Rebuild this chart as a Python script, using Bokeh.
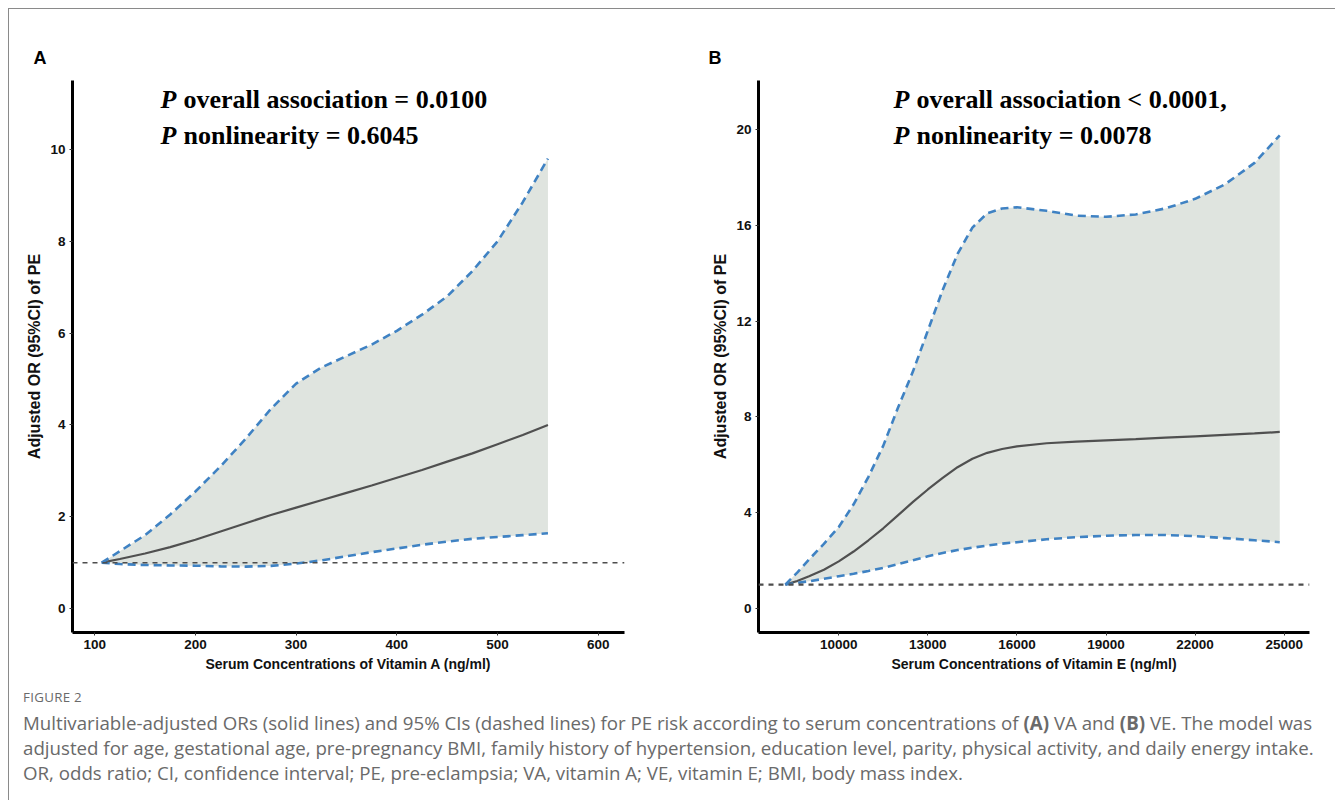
from bokeh.plotting import figure
from bokeh.models import Range1d, FixedTicker, Label, Span, Div
from bokeh.layouts import row, column
from bokeh.embed import file_html
from bokeh.resources import INLINE

# ---------------- Panel A: serum vitamin A (ng/ml) ----------------
va_x = [107, 125, 150, 175, 200, 225, 250, 275, 300, 325, 350, 375, 400,
        425, 450, 475, 500, 525, 550]
va_or = [1.0, 1.08, 1.2, 1.34, 1.5, 1.68, 1.86, 2.04, 2.2, 2.36, 2.52, 2.68,
         2.85, 3.02, 3.2, 3.38, 3.58, 3.78, 4.0]
va_lo = [1.0, 0.97, 0.95, 0.94, 0.935, 0.92, 0.915, 0.93, 0.98, 1.05, 1.14,
         1.23, 1.31, 1.39, 1.46, 1.52, 1.56, 1.6, 1.64]
va_hi = [1.0, 1.25, 1.6, 2.05, 2.55, 3.1, 3.7, 4.35, 4.9, 5.25, 5.5, 5.75,
         6.05, 6.4, 6.8, 7.35, 8.0, 8.85, 9.8]
va_xticks = [100, 200, 300, 400, 500, 600]
va_yticks = [0, 2, 4, 6, 8, 10]
va_xrange = (78, 626)
va_yrange = (-0.52, 11.5)

# ---------------- Panel B: serum vitamin E (ng/ml) ----------------
ve_x = [8200, 8600, 9000, 9500, 10000, 10500, 11000, 11500, 12000, 12500,
        13000, 13500, 14000, 14500, 15000, 15500, 16000, 17000, 18000, 19000,
        20000, 21000, 22000, 23000, 24000, 24850]
ve_or = [1.0, 1.15, 1.35, 1.62, 1.97, 2.38, 2.85, 3.35, 3.9, 4.45, 4.97, 5.45,
         5.9, 6.25, 6.5, 6.66, 6.77, 6.9, 6.97, 7.02, 7.07, 7.13, 7.19, 7.25,
         7.31, 7.37]
ve_lo = [1.0, 1.07, 1.14, 1.24, 1.35, 1.45, 1.57, 1.7, 1.85, 2.02, 2.18, 2.32,
         2.44, 2.54, 2.63, 2.71, 2.77, 2.89, 2.98, 3.04, 3.07, 3.07, 3.02,
         2.94, 2.85, 2.77]
ve_hi = [1.0, 1.5, 2.05, 2.7, 3.4, 4.35, 5.5, 6.8, 8.4, 9.9, 11.6, 13.3, 14.8,
         15.9, 16.5, 16.7, 16.75, 16.6, 16.4, 16.35, 16.45, 16.7, 17.1, 17.7,
         18.6, 19.75]
ve_xticks = [10000, 13000, 16000, 19000, 22000, 25000]
ve_yticks = [0, 4, 8, 12, 16, 20]
ve_xrange = (7297, 25852)
ve_yrange = (-1.0, 22.04)

REF_OR = 1.0
Y_TITLE = "Adjusted OR (95%CI) of PE"

RIBBON = "#DFE4DF"
CI_BLUE = "#3F82C3"
FIT_GREY = "#505050"


def make_panel(x, fit, lo, hi, xr, yr, xticks, yticks, xtitle, letter,
               line1, line2, left, right, width, ref_w, letter_dx, text_dx):
    p = figure(width=width, height=671, x_range=Range1d(*xr),
               y_range=Range1d(*yr), output_backend="svg",
               toolbar_location=None, min_border_left=left,
               min_border_right=right, min_border_top=71,
               min_border_bottom=48, title=letter)
    p.outline_line_color = None
    p.grid.visible = False
    p.background_fill_color = "white"
    p.border_fill_color = "white"
    p.title.align = "left"
    p.title.offset = letter_dx
    p.title.text_font = "Liberation Sans"
    p.title.text_font_style = "bold"
    p.title.text_font_size = "18px"
    p.title.text_color = "black"
    p.title.standoff = 26

    p.varea(x=x, y1=lo, y2=hi, fill_color=RIBBON)
    p.add_layout(Span(location=REF_OR, dimension="width",
                      line_color="#4d4d4d", line_width=ref_w,
                      line_dash="5 5"))
    p.line(x, fit, line_color=FIT_GREY, line_width=2.2)
    p.line(x, hi, line_color=CI_BLUE, line_width=2.6, line_dash="8 5")
    p.line(x, lo, line_color=CI_BLUE, line_width=2.6, line_dash="8 5")

    for ax in (p.xaxis[0], p.yaxis[0]):
        ax.axis_line_width = 3
        ax.axis_line_color = "black"
        ax.major_tick_out = 3
        ax.major_tick_in = 0
        ax.minor_tick_out = 0
        ax.minor_tick_in = 0
        ax.major_tick_line_color = "#333333"
        ax.major_label_text_font = "Liberation Sans"
        ax.major_label_text_font_style = "bold"
        ax.major_label_text_font_size = "13.5px"
        ax.major_label_text_color = "#111111"
        ax.axis_label_text_font = "Liberation Sans"
        ax.axis_label_text_font_style = "bold"
        ax.axis_label_text_color = "#111111"
        ax.major_label_standoff = 4
        ax.axis_label_standoff = 4
    p.xaxis[0].ticker = FixedTicker(ticks=xticks)
    p.yaxis[0].ticker = FixedTicker(ticks=yticks)
    p.xaxis[0].axis_label = xtitle
    p.yaxis[0].axis_label = Y_TITLE
    p.xaxis[0].axis_label_text_font_size = "14px"
    p.yaxis[0].axis_label_text_font_size = "16px"

    for (pre, txt, yy) in ((line1[0], line1[1], 519), (line2[0], line2[1], 483)):
        p.add_layout(Label(x=text_dx, y=yy, x_units="screen", y_units="screen",
                           text=pre, text_font="Liberation Serif",
                           text_font_style="bold italic", text_font_size="26px",
                           text_color="black"))
        p.add_layout(Label(x=text_dx + 23, y=yy, x_units="screen",
                           y_units="screen", text=txt,
                           text_font="Liberation Serif", text_font_style="bold",
                           text_font_size="26px", text_color="black"))
    return p


pA = make_panel(va_x, va_or, va_lo, va_hi, va_xrange, va_yrange, va_xticks,
                va_yticks, "Serum Concentrations of Vitamin A (ng/ml)", "A",
                ("P", "overall association = 0.0100"),
                ("P", "nonlinearity = 0.6045"),
                left=63, right=46, width=661, ref_w=1.4, letter_dx=-39,
                text_dx=88)
pB = make_panel(ve_x, ve_or, ve_lo, ve_hi, ve_xrange, ve_yrange, ve_xticks,
                ve_yticks, "Serum Concentrations of Vitamin E (ng/ml)", "B",
                ("P", "overall association < 0.0001,"),
                ("P", "nonlinearity = 0.0078"),
                left=88, right=17, width=656, ref_w=2.2, letter_dx=-50,
                text_dx=135)

caption_html = (
    '<div style="font-family:\'Open Sans\'; color:#6a6a6a; padding-left:9px;">'
    '<div style="font-size:13.3px; line-height:16px; margin-top:4px; '
    'letter-spacing:0.3px;">FIGURE 2</div>'
    '<div style="font-size:18.7px; line-height:25px; margin-top:5px; '
    'white-space:nowrap;">'
    'Multivariable-adjusted ORs (solid lines) and 95% CIs (dashed lines) for PE '
    'risk according to serum concentrations of <b>(A)</b> VA and <b>(B)</b> VE. '
    'The model was<br>'
    'adjusted for age, gestational age, pre-pregnancy BMI, family history of '
    'hypertension, education level, parity, physical activity, and daily energy '
    'intake.<br>'
    'OR, odds ratio; CI, confidence interval; PE, pre-eclampsia; VA, vitamin A; '
    'VE, vitamin E; BMI, body mass index.'
    '</div></div>'
)
cap = Div(text=caption_html, width=1317, height=120)

layout = column(row(pA, pB, spacing=0), cap, spacing=0, margin=(9, 0, 0, 9),
                styles={"box-shadow": "-1px -1px 0 0 #8a8a8a, 1px -1px 0 0 #8a8a8a",
                        "background-color": "white"})

open("out.html", "w").write(file_html(layout, INLINE))
